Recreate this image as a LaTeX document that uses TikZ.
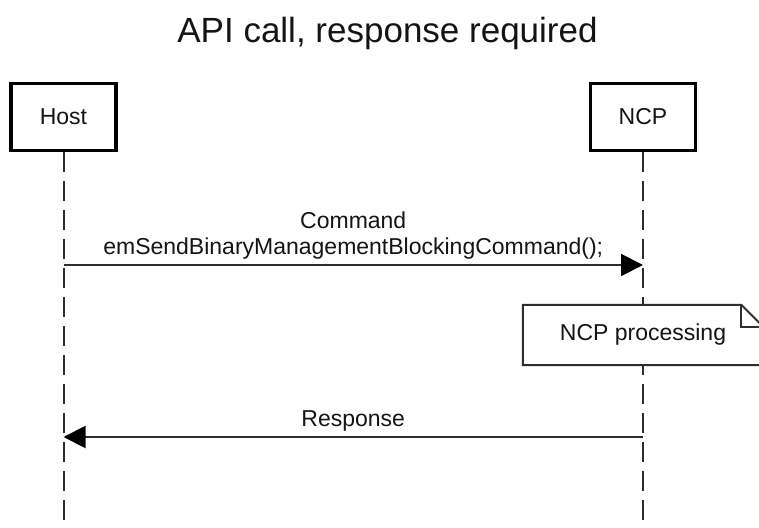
\documentclass[tikz,border=0pt]{standalone}
\usepackage{fontspec}
\setmainfont{Liberation Sans}
\usepackage{tikz}
\usetikzlibrary{arrows.meta,positioning,calc}
\usepackage{xcolor}
\definecolor{SeqLine}{RGB}{45,45,45}
\definecolor{SeqText}{RGB}{20,20,20}

\begin{document}
\begin{tikzpicture}[x=1pt,y=1pt,
  actor/.style={draw=black,line width=3.5pt,fill=white,minimum width=105pt,
                minimum height=67pt,text=SeqText,font=\fontsize{23}{26}\selectfont},
  life/.style={SeqLine,line width=2pt,dash pattern=on 20pt off 9pt},
  msg/.style={-{Triangle[length=22pt,width=22pt,color=black]},SeqLine,line width=2pt},
  lbl/.style={inner sep=0pt,align=center,text=SeqText,font=\fontsize{23}{26}\selectfont},
  notebox/.style={fill=white,minimum width=240pt,minimum height=60pt,inner sep=0pt,
                  text=SeqText,font=\fontsize{23}{26}\selectfont},
]
\useasboundingbox (0,0) rectangle (759,527);
\node[font=\fontsize{35}{40}\selectfont,text=SeqText,anchor=base] (title) at (387.5,484)
  {API call, response required};
\node[actor] (host) at (63.5,410) {Host};
\node[actor] (ncp) at (643,410) {NCP};
% lifelines
\coordinate (hostend) at (host.south |- 0,5);
\coordinate (ncpend) at (ncp.south |- 0,5);
\draw[life] (host.south) -- (hostend);
\draw[life] (ncp.south) -- (ncpend);
% note on the NCP lifeline
\node[notebox] (proc) at (643,192) {NCP processing};
\draw[SeqLine,line width=2pt,line join=miter]
  (proc.north west) -- ([xshift=-22pt]proc.north east) -- ([yshift=-22pt]proc.north east)
  -- (proc.south east) -- (proc.south west) -- cycle;
\draw[SeqLine,line width=1.6pt] ([xshift=-22pt]proc.north east) |- ([yshift=-22pt]proc.north east);
% messages
\coordinate (cmdfrom) at (host.south |- 0,262);
\coordinate (cmdto) at (ncp.south |- 0,262);
\coordinate (rspfrom) at (ncp.south |- 0,90);
\coordinate (rspto) at (host.south |- 0,90);
\draw[msg] (cmdfrom) -- (cmdto)
  node[lbl,midway,above=5pt] {Command\\emSendBinaryManagementBlockingCommand();};
\draw[msg] (rspfrom) -- (rspto) node[lbl,midway,above=5pt] {Response};
\end{tikzpicture}
\end{document}
